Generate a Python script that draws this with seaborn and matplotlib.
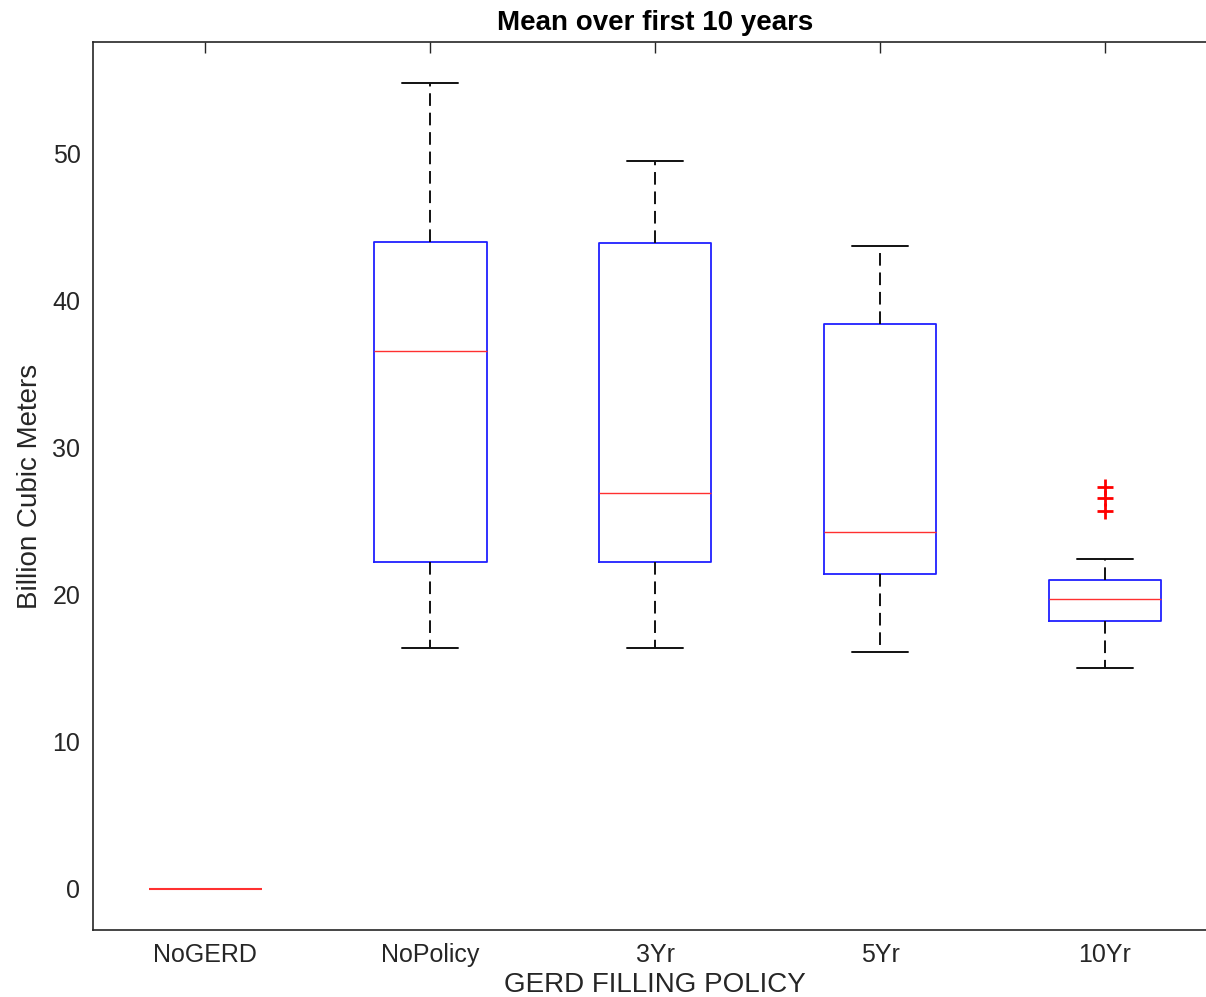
import numpy as np
import pandas as pd
import matplotlib
matplotlib.use("Agg")
import matplotlib.pyplot as plt
import seaborn as sns

# ---- data ----
categories = ["NoGERD", "NoPolicy", "3Yr", "5Yr", "10Yr"]
whisker_low = [0.0, 16.4, 16.4, 16.1, 15.0]
q1 = [0.0, 22.2, 22.2, 21.4, 18.2]
median = [0.0, 36.6, 26.9, 24.3, 19.7]
q3 = [0.0, 44.0, 43.9, 38.4, 21.0]
whisker_high = [0.0, 54.8, 49.5, 43.7, 22.4]
outliers = [[], [], [], [], [25.7, 26.6, 27.35]]
yticks = [0, 10, 20, 30, 40, 50]

title = "Mean over first 10 years"
xlabel = "GERD FILLING POLICY"
ylabel = "Billion Cubic Meters"

# Build samples whose quartiles reproduce the summary exactly
rows = []
for cat, lo, a, m, b, hi, out in zip(categories, whisker_low, q1, median, q3,
                                      whisker_high, outliers):
    k = 1 + len(out)
    vals = [lo] + [a] * k + [m] * k + [b] * k + [hi] + list(out)
    rows += [(cat, v) for v in vals]
df = pd.DataFrame(rows, columns=["policy", "value"])

sns.set_style("white")
plt.rcParams["font.family"] = ["Liberation Sans", "DejaVu Sans"]
txt = "#262626"

fig = plt.figure(figsize=(12.06, 9.97), dpi=100)
ax = fig.add_axes([0.0771, 0.0672, 0.9324, 0.8907])

sns.boxplot(
    data=df, x="policy", y="value", order=categories, ax=ax,
    width=0.5, whis=1.5, fill=False, linewidth=1.3,
    boxprops=dict(color="#2020ff", linewidth=1.3),
    medianprops=dict(color="#ff3030", linewidth=1.0, zorder=5),
    whiskerprops=dict(color="#111111", linewidth=1.4, linestyle=(0, (6.5, 3.5))),
    capprops=dict(color="#111111", linewidth=1.4),
    flierprops=dict(marker="+", markeredgecolor="red", markerfacecolor="red",
                    markersize=11, markeredgewidth=2),
    capwidths=0.25,
)

# The NoGERD group is a degenerate box: MATLAB shows only its median line
for ln in ax.lines:
    xd = np.asarray(ln.get_xdata(), dtype=float)
    if xd.size and np.all((xd > -0.5) & (xd < 0.5)) and ln.get_color() != "#ff3030":
        ln.set_visible(False)
    elif xd.size and np.all((xd > -0.5) & (xd < 0.5)):
        ln.set_linewidth(1.5)

ax.set_xlim(-0.5, 4.5)
ax.set_ylim(-2.8, 57.6)
ax.set_yticks(yticks)
ax.set_xticks(range(len(categories)))
ax.set_xticklabels(categories)

ax.tick_params(direction="in", length=8, width=1.0, top=True, right=True,
               colors=txt, labelsize=18)
ax.tick_params(axis="x", pad=9)
ax.tick_params(axis="y", pad=9)
for sp in ax.spines.values():
    sp.set_visible(True)
    sp.set_color(txt)
    sp.set_linewidth(1.2)

ax.set_title(title, fontsize=20, fontweight="bold", color="black", pad=8.5)
ax.set_xlabel(xlabel, fontsize=20, color=txt, labelpad=4)
ax.set_ylabel(ylabel, fontsize=20, color=txt, labelpad=7)

fig.savefig("out.png", dpi=100)
